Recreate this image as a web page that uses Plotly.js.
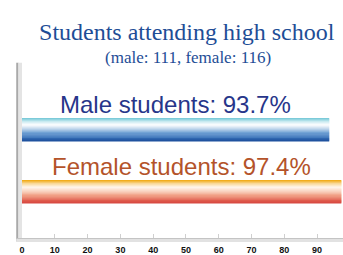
<!DOCTYPE html>
<html><head><meta charset="utf-8">
<script src="https://cdn.plot.ly/plotly-3.0.1.min.js"></script>
<style>html,body{margin:0;padding:0;background:#fff}#chart{width:343px;height:255px}</style>
</head><body><div id="chart"></div>
<script>
// ---- data ----
const categories = ["Male students", "Female students"];
const percentValues = [93.7, 97.4];
const labelTexts = ["Male students: 93.7%", "Female students: 97.4%"];
const tickValues = [0, 10, 20, 30, 40, 50, 60, 70, 80, 90];
const titleText = "Students attending high school";
const subtitleText = "(male: 111, female: 116)";

// ---- style ----
const gradients = [
  [[0, "#7ccbd9"], [0.12, "#bfe6ee"], [0.28, "#ffffff"], [0.45, "#c9ddef"], [0.65, "#6fa0d3"], [0.85, "#3a74bb"], [1, "#1f529f"]],
  [[0, "#f2ad1c"], [0.12, "#f8d48a"], [0.3, "#fff6ec"], [0.5, "#f9d2bf"], [0.7, "#f09a7e"], [0.88, "#e2614f"], [1, "#d84b43"]]
];
const labelColors = ["#27368a", "#b4532a"];

function hex2rgb(h){return [parseInt(h.slice(1,3),16),parseInt(h.slice(3,5),16),parseInt(h.slice(5,7),16)];}
function sample(scale, t){
  for (let k = 1; k < scale.length; k++) {
    if (t <= scale[k][0]) {
      const a = scale[k-1], b = scale[k];
      const f = (t - a[0]) / (b[0] - a[0]);
      const ca = hex2rgb(a[1]), cb = hex2rgb(b[1]);
      return "rgb(" + ca.map((v,i)=>Math.round(v + (cb[i]-v)*f)).join(",") + ")";
    }
  }
  return scale[scale.length-1][1];
}

const N = 24, barW = 0.37;
const traces = [];
for (let i = 0; i < N; i++) {
  const t = i / (N - 1);
  traces.push({
    type: "bar", orientation: "h",
    x: percentValues, y: categories,
    width: barW / N * 1.6,
    offset: -barW / 2 + i * barW / N,
    marker: {color: categories.map((c, k) => sample(gradients[k], t)), line: {width: 0}},
    hoverinfo: "skip", showlegend: false
  });
}

const annotations = categories.map((c, k) => ({
  x: percentValues[k] / 2, y: c, xref: "x", yref: "y",
  text: labelTexts[k], showarrow: false, yshift: 25,
  font: {family: "Liberation Sans, Arial, sans-serif", size: 24, color: labelColors[k]}
}));
annotations.push({
  xref: "paper", yref: "paper", x: (187.5 - 22) / 321, y: (238 - 57.5) / 171,
  xanchor: "center", yanchor: "middle", text: subtitleText, showarrow: false,
  font: {family: "Liberation Serif, Times New Roman, serif", size: 17, color: "#1e4d96"}
});

const shapes = [
  {type: "rect", xref: "paper", yref: "paper", x0: -0.018, x1: -0.011, y0: -0.02, y1: 1.025, fillcolor: "#a9a9a9", line: {width: 0}, layer: "below"},
  {type: "rect", xref: "paper", yref: "paper", x0: -0.011, x1: 0.0, y0: -0.02, y1: 1.025, fillcolor: "#e4e4e4", line: {width: 0}, layer: "below"},
  {type: "rect", xref: "paper", yref: "paper", x0: -0.018, x1: 1.05, y0: -0.006, y1: 0.0, fillcolor: "#c4c4c4", line: {width: 0}, layer: "below"},
  {type: "rect", xref: "paper", yref: "paper", x0: -0.018, x1: 1.05, y0: -0.024, y1: -0.006, fillcolor: "#e2e2e2", line: {width: 0}, layer: "below"}
];

const layout = {
  width: 343, height: 255,
  margin: {l: 22, r: 0, t: 67, b: 17, pad: 0},
  paper_bgcolor: "#ffffff", plot_bgcolor: "rgba(0,0,0,0)",
  barmode: "overlay",
  title: {
    text: titleText, xref: "paper", x: (186.7 - 22) / 321, xanchor: "center",
    yref: "container", y: 1 - 31.5 / 255, yanchor: "middle",
    font: {family: "Liberation Serif, Times New Roman, serif", size: 24, color: "#1e4d96"}
  },
  xaxis: {
    range: [0, 97.9], tickvals: tickValues, ticks: "inside", ticklen: 4, tickcolor: "#cfcfcf",
    ticklabelstandoff: 5,
    showgrid: false, zeroline: false, showline: false, fixedrange: true,
    tickfont: {family: "Liberation Sans, Arial, sans-serif", size: 9, color: "#111", weight: "bold"}
  },
  yaxis: {
    type: "category", categoryorder: "array", categoryarray: categories,
    range: [1.75, -1.008], showticklabels: false, showgrid: false, zeroline: false, showline: false, ticks: ""
  },
  annotations: annotations,
  shapes: shapes
};

Plotly.newPlot("chart", traces, layout, {displayModeBar: false, staticPlot: true});
</script></body></html>
